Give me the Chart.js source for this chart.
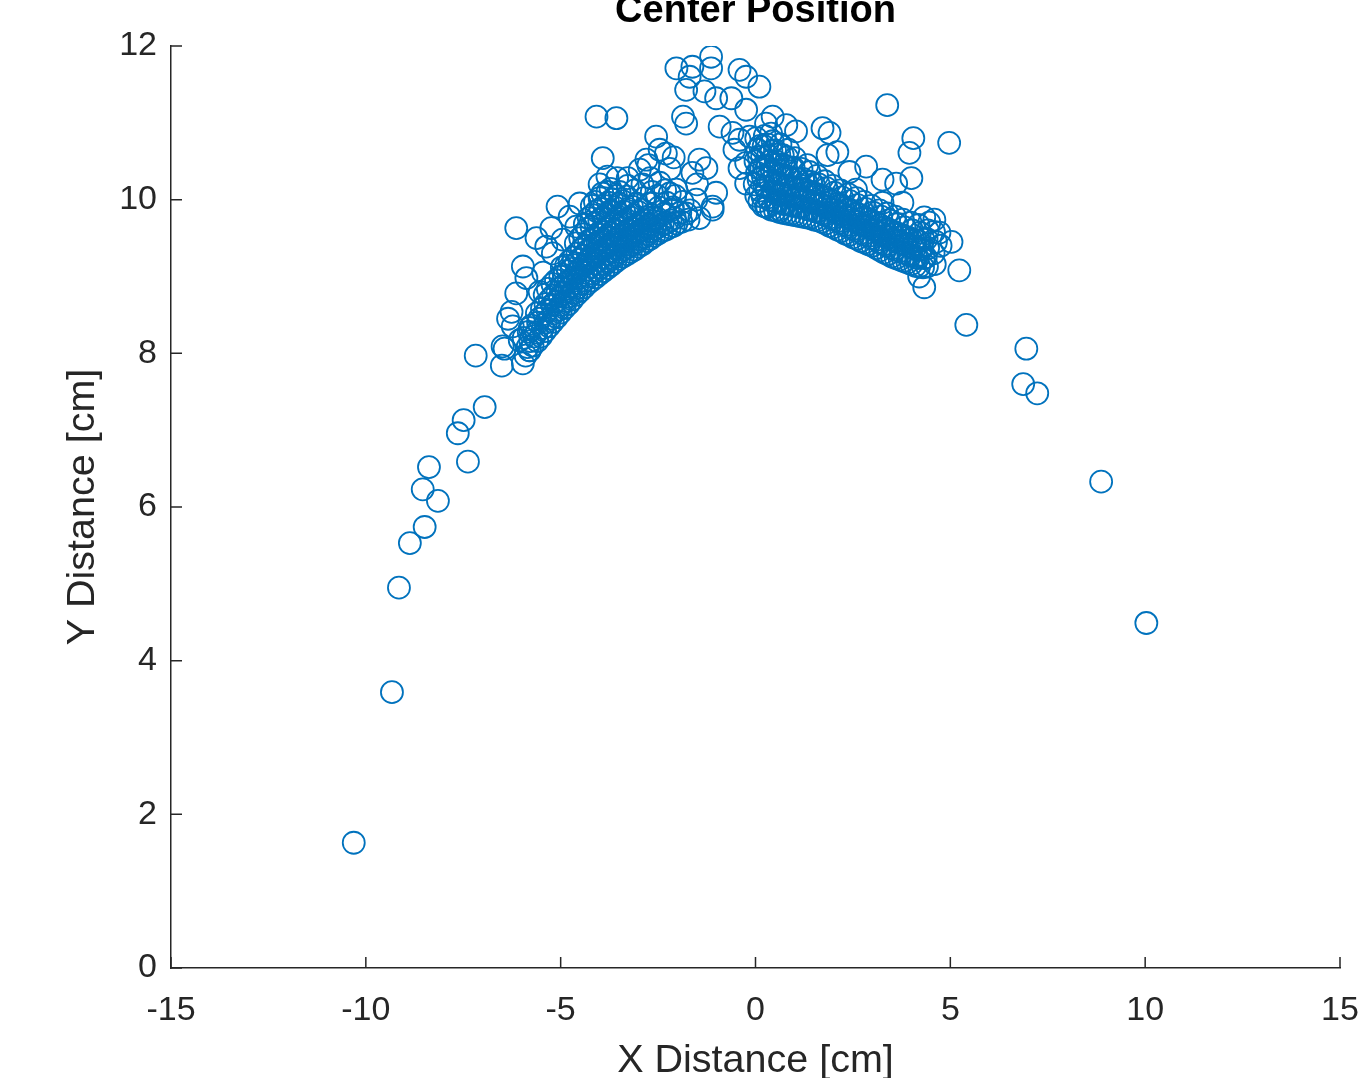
<!DOCTYPE html>
<html>
<head>
<meta charset="utf-8">
<title>Center Position</title>
<script src="https://cdn.jsdelivr.net/npm/chart.js@4"></script>
<style>
  html, body { margin: 0; padding: 0; background: #fff; }
  #wrap { width: 1360px; height: 1078px; }
</style>
</head>
<body>
<div id="wrap"><canvas id="grafico"></canvas></div>
<script>
// Tick values of both axes
const xTicks = [-15, -10, -5, 0, 5, 10, 15];
const yTicks = [0, 2, 4, 6, 8, 10, 12];

// Points, [x, y] in cm
const leftTail = [
  [-10.31, 1.63], [-9.33, 3.59], [-9.15, 4.95], [-8.87, 5.53], [-8.49, 5.74],
  [-8.54, 6.23], [-8.38, 6.52], [-8.15, 6.08], [-7.38, 6.59], [-7.64, 6.96],
  [-7.49, 7.13], [-6.95, 7.30], [-7.18, 7.97], [-6.51, 7.84], [-6.44, 8.06]
];

const leftEdge = [
  [-6.14, 9.63], [-5.62, 9.50], [-5.24, 9.63], [-5.08, 9.91], [-5.37, 9.39],
  [-5.97, 9.13], [-5.88, 8.98], [-6.14, 8.78], [-6.26, 8.54], [-6.23, 8.35],
  [-6.49, 8.09], [-5.97, 7.87], [-5.54, 8.80], [-5.20, 9.30], [-4.95, 9.48],
  [-4.60, 9.65], [-4.77, 9.78], [-4.51, 9.95], [-5.79, 8.33], [-6.05, 8.17],
  [-5.79, 8.04], [-6.35, 8.45], [-5.45, 9.05]
];

const leftBand = [
  [-5.9, 7.97], [-5.85, 8.08], [-5.95, 8.2],
  [-5.72, 8.1], [-5.68, 8.22], [-5.75, 8.36],
  [-5.5, 8.22], [-5.46, 8.33], [-5.55, 8.45], [-5.48, 8.58],
  [-5.3, 8.35], [-5.27, 8.45], [-5.34, 8.56], [-5.28, 8.7], [-5.33, 8.84],
  [-5.1, 8.47], [-5.06, 8.57], [-5.13, 8.67], [-5.08, 8.8], [-5.12, 8.95],
  [-4.9, 8.59], [-4.87, 8.68], [-4.93, 8.78], [-4.88, 8.9], [-4.92, 9.02], [-4.86, 9.14],
  [-4.7, 8.7], [-4.66, 8.79], [-4.73, 8.88], [-4.68, 8.98], [-4.72, 9.1], [-4.67, 9.25],
  [-4.5, 8.81], [-4.47, 8.9], [-4.53, 8.99], [-4.49, 9.1], [-4.52, 9.22], [-4.46, 9.35], [-4.5, 9.5],
  [-4.3, 8.91], [-4.27, 9.0], [-4.33, 9.09], [-4.28, 9.2], [-4.32, 9.33], [-4.27, 9.47], [-4.31, 9.62], [-4.28, 9.76],
  [-4.1, 8.99], [-4.07, 9.08], [-4.13, 9.17], [-4.08, 9.28], [-4.12, 9.4], [-4.06, 9.55], [-4.11, 9.7], [-4.08, 9.85], [-4.12, 9.97],
  [-3.9, 9.07], [-3.87, 9.16], [-3.93, 9.25], [-3.88, 9.36], [-3.92, 9.48], [-3.86, 9.62], [-3.91, 9.77], [-3.88, 9.92], [-3.93, 10.08],
  [-3.7, 9.15], [-3.67, 9.24], [-3.73, 9.33], [-3.68, 9.44], [-3.72, 9.57], [-3.66, 9.7], [-3.71, 9.85], [-3.68, 10.0], [-3.72, 10.14],
  [-3.5, 9.23], [-3.47, 9.32], [-3.53, 9.42], [-3.48, 9.53], [-3.52, 9.66], [-3.46, 9.8], [-3.51, 9.95], [-3.49, 10.1],
  [-3.3, 9.29], [-3.27, 9.38], [-3.33, 9.48], [-3.28, 9.6], [-3.32, 9.74], [-3.27, 9.88], [-3.31, 10.04], [-3.28, 10.18],
  [-3.1, 9.35], [-3.07, 9.44], [-3.13, 9.54], [-3.08, 9.66], [-3.12, 9.8], [-3.06, 9.95], [-3.1, 10.12],
  [-2.9, 9.42], [-2.87, 9.51], [-2.93, 9.61], [-2.88, 9.73], [-2.92, 9.87], [-2.86, 10.02], [-2.9, 10.2],
  [-2.7, 9.49], [-2.67, 9.58], [-2.73, 9.68], [-2.68, 9.8], [-2.72, 9.95], [-2.66, 10.1], [-2.7, 10.28],
  [-2.5, 9.56], [-2.47, 9.65], [-2.53, 9.76], [-2.48, 9.9], [-2.52, 10.05], [-2.46, 10.22],
  [-2.3, 9.61], [-2.27, 9.7], [-2.33, 9.82], [-2.28, 9.96], [-2.32, 10.12],
  [-2.1, 9.66], [-2.07, 9.76], [-2.12, 9.9], [-2.06, 10.05],
  [-1.9, 9.71], [-1.93, 9.83], [-1.87, 9.97],
  [-1.72, 9.74], [-1.68, 9.86]
];

// Extra points in the darkest part of the left band
const leftFill = [
  [-5.8, 8.04], [-5.78, 8.16], [-5.82, 8.28],
  [-5.6, 8.16], [-5.62, 8.27], [-5.58, 8.4], [-5.61, 8.52],
  [-5.4, 8.29], [-5.38, 8.4], [-5.42, 8.51], [-5.39, 8.64], [-5.41, 8.76],
  [-5.2, 8.41], [-5.18, 8.52], [-5.22, 8.63], [-5.19, 8.75], [-5.21, 8.9],
  [-5.0, 8.53], [-4.98, 8.63], [-5.02, 8.74], [-4.99, 8.86], [-5.01, 9.0], [-4.97, 9.12],
  [-4.8, 8.64], [-4.78, 8.74], [-4.82, 8.84], [-4.79, 8.95], [-4.81, 9.07], [-4.77, 9.2],
  [-4.6, 8.76], [-4.58, 8.85], [-4.62, 8.95], [-4.59, 9.05], [-4.61, 9.17], [-4.57, 9.3], [-4.61, 9.43],
  [-4.4, 8.86], [-4.38, 8.95], [-4.42, 9.05], [-4.39, 9.15], [-4.41, 9.27], [-4.37, 9.4], [-4.41, 9.55], [-4.38, 9.68],
  [-4.2, 8.95], [-4.18, 9.04], [-4.22, 9.13], [-4.19, 9.24], [-4.21, 9.36], [-4.17, 9.5], [-4.21, 9.65], [-4.18, 9.8], [-4.2, 9.92],
  [-4.0, 9.03], [-3.98, 9.12], [-4.02, 9.21], [-3.99, 9.32], [-4.01, 9.44], [-3.97, 9.58], [-4.01, 9.73], [-3.98, 9.88], [-4.0, 10.02],
  [-3.8, 9.11], [-3.78, 9.2], [-3.82, 9.29], [-3.79, 9.4], [-3.81, 9.52], [-3.77, 9.66], [-3.81, 9.81], [-3.78, 9.96], [-3.8, 10.1],
  [-3.6, 9.19], [-3.58, 9.28], [-3.62, 9.37], [-3.59, 9.48], [-3.61, 9.61], [-3.57, 9.75], [-3.61, 9.9], [-3.58, 10.05],
  [-3.4, 9.26], [-3.38, 9.35], [-3.42, 9.45], [-3.39, 9.56], [-3.41, 9.7], [-3.37, 9.84], [-3.41, 9.98],
  [-3.2, 9.32], [-3.18, 9.41], [-3.22, 9.51], [-3.19, 9.63], [-3.21, 9.77], [-3.17, 9.91],
  [-3.0, 9.39], [-2.98, 9.48], [-3.02, 9.58], [-2.99, 9.7], [-3.01, 9.84],
  [-2.8, 9.46], [-2.78, 9.55], [-2.82, 9.65], [-2.79, 9.77],
  [-2.6, 9.53], [-2.58, 9.62], [-2.62, 9.72],
  [-2.4, 9.59], [-2.38, 9.68],
  [-2.2, 9.64], [-2.18, 9.73]
];

const peak = [
  [-2.03, 11.71], [-1.62, 11.73], [-1.14, 11.86], [-1.14, 11.71], [-1.69, 11.60],
  [-1.78, 11.43], [-1.31, 11.41], [-1.01, 11.32], [-0.62, 11.32], [-0.41, 11.69],
  [-0.24, 11.60], [0.10, 11.47], [-0.24, 11.17], [-4.08, 11.08], [-3.57, 11.06],
  [-1.86, 11.08], [-1.78, 10.99], [-0.92, 10.95], [-0.59, 10.87], [-0.15, 10.82],
  [0.27, 10.99], [-3.92, 10.54], [-2.55, 10.82], [-2.46, 10.65], [-2.80, 10.52],
  [-1.44, 10.52], [-1.26, 10.41], [-1.62, 10.35], [-0.24, 10.21], [-1.01, 10.09],
  [-1.10, 9.91], [-2.03, 10.13], [-4.0, 10.2], [-3.8, 10.3], [-3.55, 10.28],
  [-3.28, 10.28], [-2.97, 10.39], [-2.75, 10.45], [-2.3, 10.6], [-2.2, 10.4],
  [-2.1, 10.55], [-2.2, 10.08], [-1.52, 10.0], [-1.1, 9.87], [-1.44, 9.76],
  [-2.03, 9.69], [-2.13, 9.87], [-1.78, 9.82], [-0.24, 10.48], [-0.41, 10.78],
  [-0.54, 10.65], [-0.41, 10.41], [-1.5, 10.2]
];

const rightBand = [
  [0.02, 10.05], [-0.02, 10.2], [0.04, 10.35], [0.0, 10.5], [0.05, 10.65], [0.02, 10.8],
  [0.2, 9.92], [0.18, 10.04], [0.23, 10.17], [0.19, 10.3], [0.22, 10.43], [0.17, 10.56], [0.21, 10.7], [0.24, 10.83],
  [0.4, 9.87], [0.37, 9.99], [0.43, 10.11], [0.39, 10.24], [0.42, 10.37], [0.38, 10.5], [0.41, 10.63], [0.44, 10.76], [0.4, 10.86],
  [0.6, 9.84], [0.57, 9.96], [0.63, 10.08], [0.59, 10.2], [0.62, 10.33], [0.58, 10.46], [0.61, 10.59], [0.64, 10.72],
  [0.8, 9.82], [0.77, 9.94], [0.83, 10.06], [0.79, 10.18], [0.82, 10.3], [0.78, 10.43], [0.81, 10.55], [0.84, 10.65],
  [1.0, 9.8], [0.97, 9.92], [1.03, 10.04], [0.99, 10.16], [1.02, 10.28], [0.98, 10.41], [1.01, 10.54],
  [1.2, 9.78], [1.17, 9.9], [1.23, 10.02], [1.19, 10.14], [1.22, 10.27], [1.18, 10.4],
  [1.4, 9.76], [1.37, 9.87], [1.43, 9.98], [1.39, 10.1], [1.42, 10.23], [1.38, 10.36],
  [1.6, 9.73], [1.57, 9.84], [1.63, 9.95], [1.59, 10.07], [1.62, 10.2], [1.58, 10.31],
  [1.8, 9.69], [1.77, 9.8], [1.83, 9.91], [1.79, 10.03], [1.82, 10.15], [1.78, 10.24],
  [2.0, 9.64], [1.97, 9.75], [2.03, 9.86], [1.99, 9.98], [2.02, 10.09], [1.98, 10.18],
  [2.2, 9.59], [2.17, 9.7], [2.23, 9.81], [2.19, 9.92], [2.22, 10.03], [2.18, 10.12],
  [2.4, 9.54], [2.37, 9.65], [2.43, 9.76], [2.39, 9.87], [2.42, 9.98], [2.38, 10.07],
  [2.6, 9.49], [2.57, 9.6], [2.63, 9.71], [2.59, 9.82], [2.62, 9.93], [2.58, 10.02],
  [2.8, 9.44], [2.77, 9.55], [2.83, 9.66], [2.79, 9.77], [2.82, 9.88], [2.78, 9.97],
  [3.0, 9.4], [2.97, 9.5], [3.03, 9.61], [2.99, 9.72], [3.02, 9.83], [2.98, 9.92],
  [3.2, 9.34], [3.17, 9.45], [3.23, 9.56], [3.19, 9.67], [3.22, 9.78], [3.18, 9.86],
  [3.4, 9.29], [3.37, 9.4], [3.43, 9.51], [3.39, 9.62], [3.42, 9.73], [3.38, 9.82],
  [3.6, 9.24], [3.57, 9.35], [3.63, 9.46], [3.59, 9.57], [3.62, 9.68], [3.58, 9.78],
  [3.8, 9.2], [3.77, 9.31], [3.83, 9.42], [3.79, 9.53], [3.82, 9.64], [3.78, 9.74],
  [4.0, 9.16], [3.97, 9.27], [4.03, 9.38], [3.99, 9.49], [4.02, 9.6], [3.98, 9.7],
  [4.2, 9.13], [4.17, 9.24], [4.23, 9.35], [4.19, 9.46], [4.22, 9.57], [4.18, 9.67],
  [4.4, 9.13], [4.37, 9.25], [4.43, 9.37], [4.39, 9.49], [4.42, 9.6],
  [4.6, 9.16], [4.57, 9.3], [4.63, 9.45], [4.58, 9.58]
];

// Extra points in the darkest part of the right band
const rightFill = [
  [0.1, 9.98], [0.12, 10.12], [0.08, 10.26], [0.11, 10.4], [0.09, 10.55], [0.12, 10.7],
  [0.3, 9.9], [0.32, 10.03], [0.28, 10.16], [0.31, 10.29], [0.29, 10.43], [0.32, 10.57], [0.3, 10.72],
  [0.5, 9.86], [0.52, 9.98], [0.48, 10.1], [0.51, 10.23], [0.49, 10.36], [0.52, 10.5], [0.5, 10.64],
  [0.7, 9.83], [0.72, 9.95], [0.68, 10.07], [0.71, 10.19], [0.69, 10.32], [0.72, 10.45], [0.7, 10.58],
  [0.9, 9.81], [0.92, 9.93], [0.88, 10.05], [0.91, 10.17], [0.89, 10.29], [0.92, 10.42],
  [1.1, 9.79], [1.12, 9.91], [1.08, 10.03], [1.11, 10.15], [1.09, 10.27],
  [1.3, 9.77], [1.32, 9.88], [1.28, 10.0], [1.31, 10.12], [1.29, 10.24],
  [1.5, 9.74], [1.52, 9.85], [1.48, 9.96], [1.51, 10.08], [1.49, 10.2],
  [1.7, 9.71], [1.72, 9.82], [1.68, 9.93], [1.71, 10.05],
  [1.9, 9.66], [1.92, 9.77], [1.88, 9.88], [1.91, 10.0],
  [2.1, 9.61], [2.12, 9.72], [2.08, 9.83], [2.11, 9.95],
  [2.3, 9.56], [2.32, 9.67], [2.28, 9.78], [2.31, 9.9],
  [2.5, 9.51], [2.52, 9.62], [2.48, 9.73], [2.51, 9.85],
  [2.7, 9.46], [2.72, 9.57], [2.68, 9.68], [2.71, 9.8],
  [2.9, 9.42], [2.92, 9.53], [2.88, 9.64], [2.91, 9.75],
  [3.1, 9.37], [3.12, 9.48], [3.08, 9.59], [3.11, 9.7],
  [3.3, 9.31], [3.32, 9.42], [3.28, 9.53], [3.31, 9.64],
  [3.5, 9.26], [3.52, 9.37], [3.48, 9.48], [3.51, 9.59],
  [3.7, 9.22], [3.72, 9.33], [3.68, 9.44], [3.71, 9.55],
  [3.9, 9.18], [3.92, 9.29], [3.88, 9.4], [3.91, 9.51],
  [4.1, 9.14], [4.12, 9.25], [4.08, 9.36], [4.11, 9.47],
  [4.3, 9.12], [4.32, 9.24], [4.28, 9.36], [4.31, 9.48]
];

const rightEdge = [
  [0.44, 11.08], [0.79, 10.97], [1.04, 10.89], [1.72, 10.93], [1.90, 10.87],
  [1.85, 10.58], [2.84, 10.43], [2.41, 10.36], [3.26, 10.26], [3.61, 10.21],
  [3.77, 9.96], [3.26, 9.96], [2.58, 10.13], [0.27, 9.91], [0.62, 9.87],
  [4.46, 9.70], [4.33, 9.77], [4.72, 9.57], [4.59, 9.74], [4.75, 9.4],
  [4.2, 9.0], [1.33, 10.45], [2.1, 10.62]
];

const rightTail = [
  [10.03, 4.49], [8.87, 6.33], [6.95, 8.06], [6.87, 7.60], [7.23, 7.48],
  [5.41, 8.37], [5.23, 9.08], [5.03, 9.45], [4.97, 10.74], [3.38, 11.23],
  [4.05, 10.80], [3.95, 10.61], [4.0, 10.28], [4.33, 8.86]
];

const pontos = [].concat(leftTail, leftEdge, leftBand, leftFill, peak, rightBand, rightFill, rightEdge, rightTail)
  .map(p => ({ x: p[0], y: p[1] }));

const corEixo = '#262626';
const fonte = "'Liberation Sans', Arial, sans-serif";

// Small inward tick marks like the MATLAB axes
const marcasInternas = {
  id: 'marcasInternas',
  afterDraw(chart) {
    const ctx = chart.ctx;
    const x = chart.scales.x;
    const y = chart.scales.y;
    const area = chart.chartArea;
    ctx.save();
    ctx.strokeStyle = corEixo;
    ctx.lineWidth = 1.5;
    ctx.beginPath();
    xTicks.forEach(v => {
      const px = x.getPixelForValue(v);
      ctx.moveTo(px, area.bottom);
      ctx.lineTo(px, area.bottom - 11);
    });
    yTicks.forEach(v => {
      const py = y.getPixelForValue(v);
      ctx.moveTo(area.left, py);
      ctx.lineTo(area.left + 11, py);
    });
    ctx.stroke();
    ctx.restore();
  }
};

new Chart(document.getElementById('grafico'), {
  type: 'scatter',
  data: {
    datasets: [{
      data: pontos,
      pointStyle: 'circle',
      pointRadius: 11,
      pointHoverRadius: 11,
      borderWidth: 1.8,
      borderColor: '#0072BD',
      backgroundColor: 'rgba(0,0,0,0)'
    }]
  },
  options: {
    responsive: true,
    maintainAspectRatio: false,
    animation: false,
    events: [],
    layout: { padding: { left: 0, right: 20, top: 0, bottom: 0 } },
    plugins: {
      legend: { display: false },
      tooltip: { enabled: false },
      title: {
        display: true,
        text: 'Center Position',
        fullSize: false,
        color: '#000',
        font: { family: fonte, size: 38, weight: 'bold' },
        padding: { top: -11, bottom: 11.4 }
      }
    },
    scales: {
      x: {
        type: 'linear',
        min: -15,
        max: 15,
        afterBuildTicks: s => { s.ticks = xTicks.map(v => ({ value: v })); },
        afterFit: s => { s.height = 110; s.paddingLeft = 0; s.paddingRight = 0; },
        grid: { drawOnChartArea: false, drawTicks: false },
        border: { display: true, color: corEixo, width: 1.5 },
        ticks: { color: corEixo, padding: 22, maxRotation: 0, font: { family: fonte, size: 34 } },
        title: {
          display: true,
          text: 'X Distance [cm]',
          color: corEixo,
          font: { family: fonte, size: 39.5 },
          padding: { top: 0, bottom: -7 }
        }
      },
      y: {
        type: 'linear',
        min: 0,
        max: 12,
        afterBuildTicks: s => { s.ticks = yTicks.map(v => ({ value: v })); },
        afterFit: s => { s.width = 171; },
        grid: { drawOnChartArea: false, drawTicks: false },
        border: { display: true, color: corEixo, width: 1.5 },
        ticks: { color: corEixo, padding: 14, font: { family: fonte, size: 34 } },
        title: {
          display: true,
          text: 'Y Distance [cm]',
          color: corEixo,
          font: { family: fonte, size: 39.5 },
          padding: { top: 59, bottom: 0 }
        }
      }
    }
  },
  plugins: [marcasInternas]
});
</script>
</body>
</html>
